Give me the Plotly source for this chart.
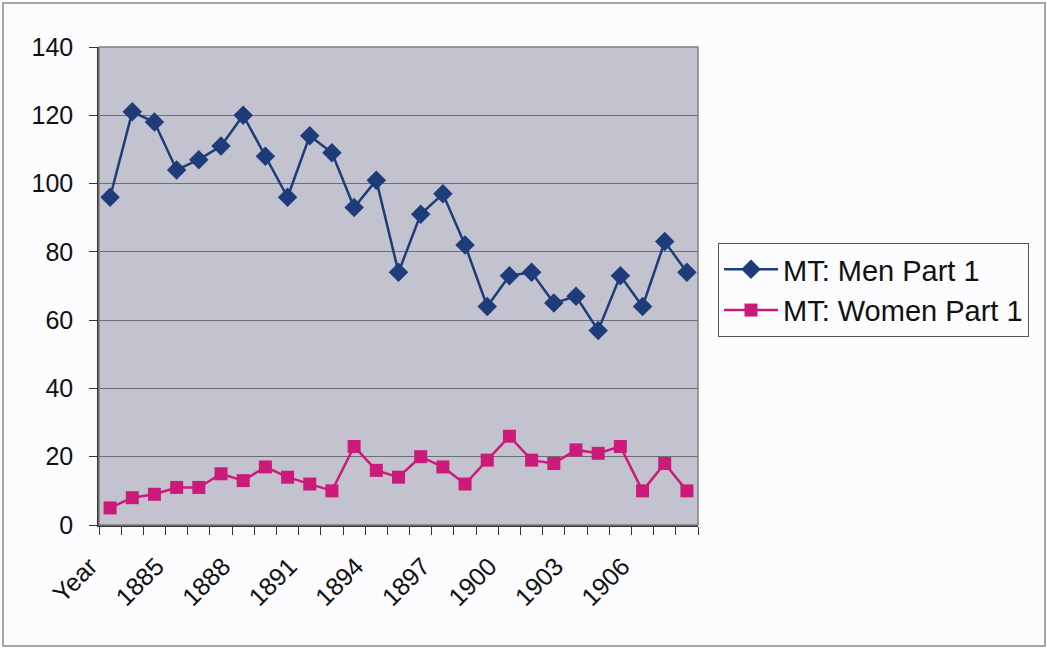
import plotly.graph_objects as go

categories = ["Year", "1883", "1884", "1885", "1886", "1887", "1888", "1889", "1890",
              "1891", "1892", "1893", "1894", "1895", "1896", "1897", "1898", "1899",
              "1900", "1901", "1902", "1903", "1904", "1905", "1906", "1907", "1908"]
men = [96, 121, 118, 104, 107, 111, 120, 108, 96, 114, 109, 93, 101, 74, 91, 97, 82,
       64, 73, 74, 65, 67, 57, 73, 64, 83, 74]
women = [5, 8, 9, 11, 11, 15, 13, 17, 14, 12, 10, 23, 16, 14, 20, 17, 12, 19, 26, 19,
         18, 22, 21, 23, 10, 18, 10]
shown_labels = ["Year", "1885", "1888", "1891", "1894", "1897", "1900", "1903", "1906"]
tick_text = [c if c in shown_labels else "" for c in categories]

W, H = 1047, 648
L, R, T, B = 99, 349, 47, 123
pw, ph = W - L - R, H - T - B

def px_x(x):
    return (x - L) / pw

def px_y(y):
    return (H - B - y) / ph

fig = go.Figure()
fig.add_trace(go.Scatter(
    x=categories, y=men, name="MT: Men Part 1", mode="lines+markers",
    line=dict(color="#1F3C7A", width=2.5),
    marker=dict(symbol="diamond", size=15, color="#1F3C7A"),
))
fig.add_trace(go.Scatter(
    x=categories, y=women, name="MT: Women Part 1", mode="lines+markers",
    line=dict(color="#CC1A7A", width=2.5),
    marker=dict(symbol="square", size=13, color="#CC1A7A"),
))

font_fam = "Arial, Liberation Sans, sans-serif"
fig.update_layout(
    width=W, height=H,
    margin=dict(l=L, r=R, t=T, b=B),
    paper_bgcolor="#FCFCFE",
    plot_bgcolor="#C3C3CF",
    font=dict(family=font_fam, size=25, color="#111111"),
    showlegend=True,
    legend=dict(
        x=px_x(718), y=px_y(243), xanchor="left", yanchor="top",
        bgcolor="#FCFCFE", bordercolor="#555555", borderwidth=1,
        font=dict(size=29, family=font_fam, color="#111111"),
        itemwidth=54, tracegroupgap=0,
    ),
    xaxis=dict(
        type="category", categoryorder="array", categoryarray=categories,
        tickmode="array", tickvals=categories, ticktext=tick_text,
        tickangle=-45, tickson="boundaries", ticks="outside", ticklen=8,
        tickcolor="#333333", showgrid=False, showline=True, linecolor="#333333",
        linewidth=1.5, mirror=False, range=[-0.5, len(categories) - 0.5],
        tickfont=dict(size=25), ticklabelshift=-20, ticklabelstandoff=15,
    ),
    yaxis=dict(
        range=[0, 140], dtick=20, tick0=0, ticks="outside", ticklen=8,
        tickcolor="#333333", showgrid=True, gridcolor="#6E6E70", gridwidth=1,
        showline=True, linecolor="#333333", linewidth=1.5, zeroline=False,
        tickfont=dict(size=25), ticklabelstandoff=11,
    ),
    shapes=[
        dict(type="rect", xref="paper", yref="paper",
             x0=px_x(99), x1=px_x(698), y0=px_y(525), y1=px_y(47),
             line=dict(color="#808080", width=1.5), layer="above"),
        dict(type="rect", xref="paper", yref="paper",
             x0=px_x(3), x1=px_x(1045), y0=px_y(646), y1=px_y(3),
             line=dict(color="#8A8A8A", width=1.5)),
    ],
)

fig.write_html("out.html", config={"displayModeBar": False},
               post_script="document.body.style.margin='0';document.body.style.overflow='hidden';")
